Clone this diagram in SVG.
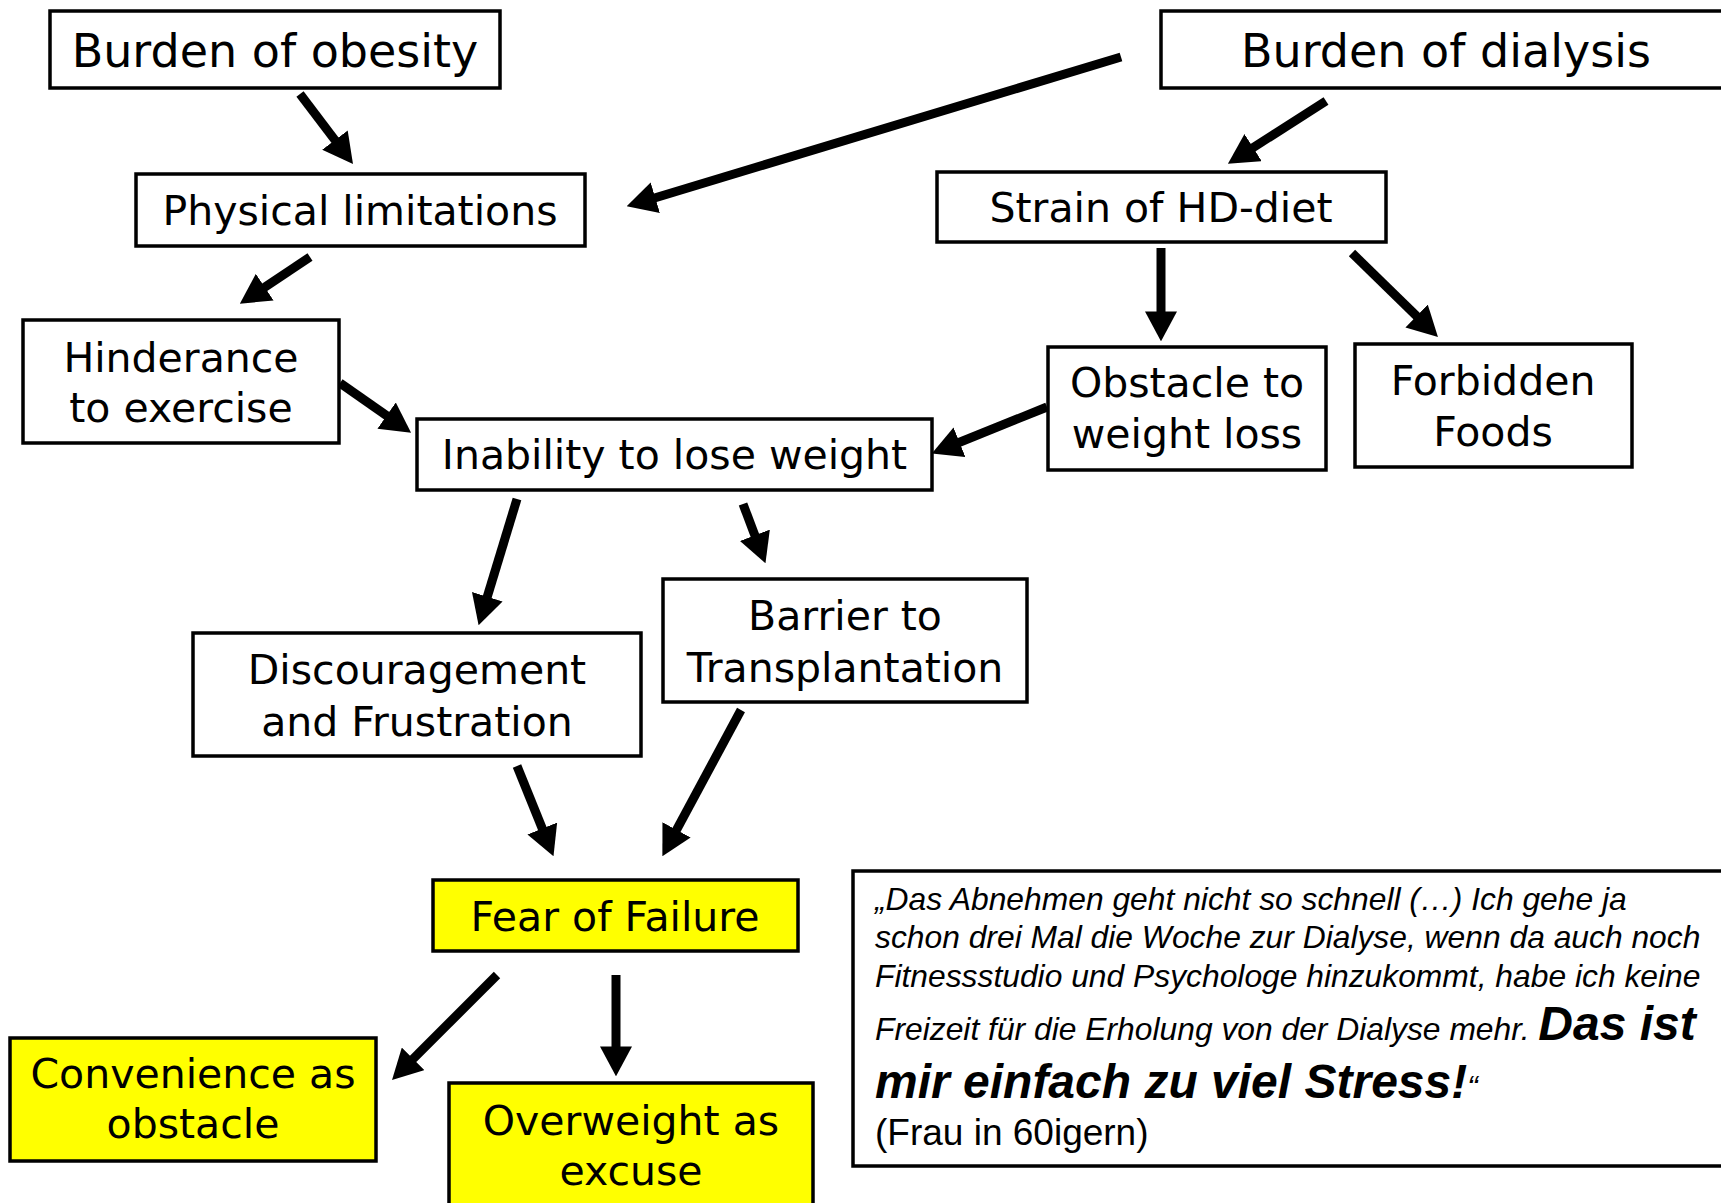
<svg xmlns="http://www.w3.org/2000/svg" width="1721" height="1203" viewBox="0 0 1721 1203">
  <style>
    .box { fill: #ffffff; stroke: #000000; stroke-width: 3.5; }
    .hot { fill: #ffff00; stroke: #000000; stroke-width: 3.5; }
    .lbl { font-family: "DejaVu Sans", Verdana, sans-serif; font-size: 41px; fill: #000; text-anchor: middle; }
    .big { font-size: 46px; }
    .conn line { stroke: #000; stroke-width: 9; marker-end: url(#head); }
    .q { font-family: "Liberation Sans", Arial, sans-serif; fill: #000; }
    .qi { font-style: italic; font-size: 31.8px; }
    .qb { font-style: italic; font-weight: bold; font-size: 48px; }
  </style>
  <defs>
    <marker id="head" markerUnits="userSpaceOnUse" markerWidth="30" markerHeight="32" viewBox="0 0 28 30" refX="8" refY="15" orient="auto">
      <path d="M0,0 L28,15 L0,30 Z" fill="#000"/>
    </marker>
  </defs>

  <rect width="1721" height="1203" fill="#ffffff"/>

  <!-- connectors -->
  <g id="connectors" class="conn">
    <line x1="300" y1="94" x2="340.1" y2="146.9"/>
    <line x1="1121" y1="57" x2="647.1" y2="200.2"/>
    <line x1="1326" y1="101" x2="1245.9" y2="152.2"/>
    <line x1="310" y1="257" x2="257.6" y2="291.9"/>
    <line x1="340" y1="383" x2="393.6" y2="420.5"/>
    <line x1="1047" y1="407" x2="951.6" y2="445.5"/>
    <line x1="1161" y1="248" x2="1161" y2="320"/>
    <line x1="1352" y1="253" x2="1422.7" y2="322"/>
    <line x1="517" y1="499" x2="484.8" y2="604.9"/>
    <line x1="743" y1="504" x2="757.9" y2="543.3"/>
    <line x1="517" y1="766" x2="545.5" y2="836.5"/>
    <line x1="741" y1="710" x2="672.5" y2="837.4"/>
    <line x1="497" y1="975" x2="407.1" y2="1064.9"/>
    <line x1="616" y1="975" x2="616" y2="1055"/>
  </g>

  <g id="burden-obesity">
    <rect class="box" x="50" y="11" width="450" height="77"/>
    <text class="lbl big" x="275" y="67">Burden of obesity</text>
  </g>
  <g id="physical-limitations">
    <rect class="box" x="136" y="174" width="449" height="72"/>
    <text class="lbl" x="360" y="225">Physical limitations</text>
  </g>
  <g id="burden-dialysis">
    <rect class="box" x="1161" y="11" width="580" height="77"/>
    <text class="lbl big" x="1446" y="67">Burden of dialysis</text>
  </g>
  <g id="strain-hd-diet">
    <rect class="box" x="937" y="172" width="449" height="70"/>
    <text class="lbl" x="1161" y="222">Strain of HD-diet</text>
  </g>
  <g id="hinderance-exercise">
    <rect class="box" x="23" y="320" width="316" height="123"/>
    <text class="lbl" x="181" y="372">Hinderance</text>
    <text class="lbl" x="181" y="422">to exercise</text>
  </g>
  <g id="inability-lose-weight">
    <rect class="box" x="417" y="419" width="515" height="71"/>
    <text class="lbl" x="674.5" y="469">Inability to lose weight</text>
  </g>
  <g id="obstacle-weight-loss">
    <rect class="box" x="1048" y="347" width="278" height="123"/>
    <text class="lbl" x="1187" y="397">Obstacle to</text>
    <text class="lbl" x="1187" y="448">weight loss</text>
  </g>
  <g id="forbidden-foods">
    <rect class="box" x="1355" y="344" width="277" height="123"/>
    <text class="lbl" x="1493" y="395">Forbidden</text>
    <text class="lbl" x="1493" y="446">Foods</text>
  </g>
  <g id="discouragement-frustration">
    <rect class="box" x="193" y="633" width="448" height="123"/>
    <text class="lbl" x="417" y="684">Discouragement</text>
    <text class="lbl" x="417" y="736">and Frustration</text>
  </g>
  <g id="barrier-transplantation">
    <rect class="box" x="663" y="579" width="364" height="123"/>
    <text class="lbl" x="845" y="630">Barrier to</text>
    <text class="lbl" x="845" y="682">Transplantation</text>
  </g>
  <g id="fear-of-failure">
    <rect class="hot" x="433" y="880" width="365" height="71"/>
    <text class="lbl" x="615" y="931">Fear of Failure</text>
  </g>
  <g id="convenience-obstacle">
    <rect class="hot" x="10" y="1038" width="366" height="123"/>
    <text class="lbl" x="193" y="1088">Convenience as</text>
    <text class="lbl" x="193" y="1138">obstacle</text>
  </g>
  <g id="overweight-excuse">
    <rect class="hot" x="449" y="1083" width="364" height="140"/>
    <text class="lbl" x="631" y="1135">Overweight as</text>
    <text class="lbl" x="631" y="1185">excuse</text>
  </g>

  <g id="quote">
    <rect class="box" x="853" y="871" width="880" height="295"/>
    <text class="q qi" x="875" y="910">„Das Abnehmen geht nicht so schnell (…) Ich gehe ja</text>
    <text class="q qi" x="875" y="948">schon drei Mal die Woche zur Dialyse, wenn da auch noch</text>
    <text class="q qi" x="875" y="987">Fitnessstudio und Psychologe hinzukommt, habe ich keine</text>
    <text class="q" x="875" y="1040"><tspan class="qi">Freizeit für die Erholung von der Dialyse mehr. </tspan><tspan class="qb">Das ist</tspan></text>
    <text class="q" x="875" y="1098"><tspan class="qb">mir einfach zu viel Stress!</tspan><tspan class="qi">“</tspan></text>
    <text class="q" x="875" y="1145" font-size="37">(Frau in 60igern)</text>
  </g>
</svg>
